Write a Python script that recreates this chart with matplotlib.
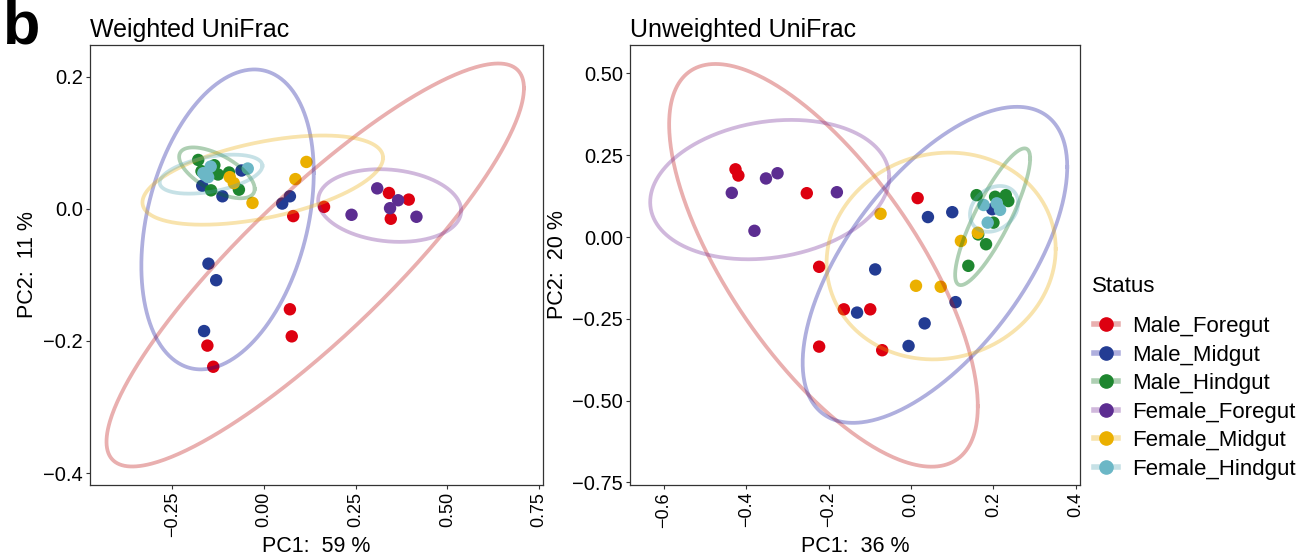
import numpy as np
import matplotlib
matplotlib.use("Agg")
import matplotlib.pyplot as plt
from matplotlib.lines import Line2D

plt.rcParams['font.family'] = ['Liberation Sans', 'DejaVu Sans']

groups = ["Male_Foregut", "Male_Midgut", "Male_Hindgut",
          "Female_Foregut", "Female_Midgut", "Female_Hindgut"]
point_colors = ["#DD0010", "#233C93", "#1E862F", "#5C2D91", "#EBB000", "#6BB7C6"]
ellipse_colors = ["#BD0C0C", "#0C0C9B", "#09701A", "#712995", "#EBAC06", "#54A6B4"]

# ---------------- Weighted UniFrac (left) ----------------
w_x = {
    "Male_Foregut": [0.080, 0.164, 0.341, 0.395, 0.346, 0.071, 0.076, -0.154, -0.138],
    "Male_Midgut": [-0.151, -0.130, -0.163, -0.113, -0.168, -0.061, 0.071, 0.050],
    "Male_Hindgut": [-0.179, -0.135, -0.125, -0.095, -0.068, -0.144, -0.170],
    "Female_Foregut": [0.309, 0.366, 0.344, 0.239, 0.416],
    "Female_Midgut": [0.116, 0.086, -0.031, -0.093, -0.082],
    "Female_Hindgut": [-0.044, -0.145, -0.165, -0.152, -0.160],
}
w_y = {
    "Male_Foregut": [-0.011, 0.003, 0.024, 0.014, -0.015, -0.152, -0.193, -0.207, -0.239],
    "Male_Midgut": [-0.083, -0.108, -0.185, 0.019, 0.035, 0.058, 0.019, 0.008],
    "Male_Hindgut": [0.074, 0.066, 0.052, 0.055, 0.029, 0.028, 0.057],
    "Female_Foregut": [0.031, 0.013, 0.001, -0.009, -0.012],
    "Female_Midgut": [0.071, 0.045, 0.009, 0.048, 0.039],
    "Female_Hindgut": [0.061, 0.064, 0.054, 0.048, 0.051],
}
# ellipse: centre x, centre y, half-width, half-height, correlation
w_ell_cx = [0.140, -0.099, -0.128, 0.343, -0.003, -0.144]
w_ell_cy = [-0.085, -0.016, 0.0545, 0.005, 0.0435, 0.0525]
w_ell_a = [0.569, 0.235, 0.103, 0.195, 0.328, 0.140]
w_ell_b = [0.305, 0.227, 0.0385, 0.055, 0.0675, 0.0295]
w_ell_r = [0.877, 0.31, -0.63, -0.14, 0.50, 0.43]

# ---------------- Unweighted UniFrac (right) ----------------
u_x = {
    "Male_Foregut": [-0.426, -0.419, -0.253, 0.016, -0.223, -0.163, -0.099, -0.223, -0.070],
    "Male_Midgut": [0.041, 0.100, -0.087, 0.108, -0.131, 0.033, -0.006, 0.197],
    "Male_Hindgut": [0.159, 0.204, 0.230, 0.236, 0.200, 0.163, 0.182, 0.139],
    "Female_Foregut": [-0.435, -0.352, -0.324, -0.180, -0.380],
    "Female_Midgut": [-0.074, 0.121, 0.162, 0.012, 0.072],
    "Female_Hindgut": [0.176, 0.208, 0.216, 0.186],
}
u_y = {
    "Male_Foregut": [0.207, 0.188, 0.134, 0.119, -0.091, -0.221, -0.221, -0.335, -0.346],
    "Male_Midgut": [0.061, 0.076, -0.099, -0.199, -0.231, -0.264, -0.333, 0.085],
    "Male_Hindgut": [0.128, 0.123, 0.128, 0.110, 0.044, 0.008, -0.022, -0.088],
    "Female_Foregut": [0.135, 0.179, 0.195, 0.137, 0.019],
    "Female_Midgut": [0.071, -0.012, 0.013, -0.149, -0.152],
    "Female_Hindgut": [0.098, 0.103, 0.083, 0.044],
}
u_ell_cx = [-0.2125, 0.058, 0.198, -0.343, 0.073, 0.2015]
u_ell_cy = [-0.0865, -0.085, 0.062, 0.145, -0.058, 0.086]
u_ell_a = [0.3745, 0.321, 0.091, 0.290, 0.278, 0.0585]
u_ell_b = [0.6155, 0.483, 0.209, 0.213, 0.316, 0.070]
u_ell_r = [-0.70, 0.62, 0.85, 0.18, 0.07, 0.25]

w_xticks = [-0.25, 0.0, 0.25, 0.5, 0.75]
w_xticklabels = ["\u22120.25", "0.00", "0.25", "0.50", "0.75"]
w_yticks = [-0.4, -0.2, 0.0, 0.2]
w_yticklabels = ["\u22120.4", "\u22120.2", "0.0", "0.2"]
u_xticks = [-0.6, -0.4, -0.2, 0.0, 0.2, 0.4]
u_xticklabels = ["\u22120.6", "\u22120.4", "\u22120.2", "0.0", "0.2", "0.4"]
u_yticks = [-0.75, -0.5, -0.25, 0.0, 0.25, 0.5]
u_yticklabels = ["\u22120.75", "\u22120.50", "\u22120.25", "0.00", "0.25", "0.50"]

W, H = 1314, 557
fig = plt.figure(figsize=(W / 100, H / 100), dpi=100)
axL = fig.add_axes([90 / W, 1 - 485 / H, 453 / W, 440 / H])
axR = fig.add_axes([630 / W, 1 - 485 / H, 450 / W, 440 / H])

t = np.linspace(0, 2 * np.pi, 400)


def draw(ax, xs, ys, cx, cy, a, b, r, xlim, ylim, xt, xtl, yt, ytl, title, xlab, ylab,
         ylab_x):
    for i, g in enumerate(groups):
        ax.scatter(xs[g], ys[g], s=80, color=point_colors[i], edgecolors='none', zorder=2)
    for i, g in enumerate(groups):
        ex = cx[i] + a[i] * np.cos(t)
        ey = cy[i] + b[i] * (r[i] * np.cos(t) + np.sqrt(1 - r[i] ** 2) * np.sin(t))
        ax.plot(ex, ey, color=ellipse_colors[i], alpha=0.33, lw=2.7, zorder=3)
    ax.set_xlim(*xlim)
    ax.set_ylim(*ylim)
    ax.set_xticks(xt)
    ax.set_xticklabels(xtl, rotation=90, fontsize=13)
    ax.set_yticks(yt)
    ax.set_yticklabels(ytl, fontsize=14.5)
    ax.tick_params(direction='out', length=3, width=0.8, color='#333333',
                   labelcolor='black', pad=2)
    for sp in ax.spines.values():
        sp.set_color('#333333')
        sp.set_linewidth(0.9)
    ax.set_title(title, loc='left', fontsize=18, pad=6)
    ax.set_xlabel(xlab, fontsize=15.5)
    ax.set_ylabel(ylab, fontsize=15.5)
    ax.xaxis.set_label_coords(0.5, -0.115)
    ax.yaxis.set_label_coords(ylab_x, 0.5)


draw(axL, w_x, w_y, w_ell_cx, w_ell_cy, w_ell_a, w_ell_b, w_ell_r,
     (-0.474, 0.761), (-0.418, 0.248), w_xticks, w_xticklabels, w_yticks, w_yticklabels,
     "Weighted UniFrac", "PC1:  59 %", "PC2:  11 %", (38 - 90) / 453)
draw(axR, u_x, u_y, u_ell_cx, u_ell_cy, u_ell_a, u_ell_b, u_ell_r,
     (-0.682, 0.41), (-0.758, 0.587), u_xticks, u_xticklabels, u_yticks, u_yticklabels,
     "Unweighted UniFrac", "PC1:  36 %", "PC2:  20 %", (568 - 630) / 450)

fig.text(3 / W, 1 - 28 / H, "b", fontsize=44, fontweight='bold', va='center', ha='left')

fig.text(1092 / W, 1 - 287 / H, "Status", fontsize=16, va='center', ha='left')
handles = []
for i, g in enumerate(groups):
    h = Line2D([], [], color=matplotlib.colors.to_rgba(ellipse_colors[i], 0.33), lw=4,
               marker='o', markersize=9.5, markerfacecolor=point_colors[i],
               markeredgecolor=point_colors[i])
    handles.append(h)
leg = fig.legend(handles, groups, loc='upper left',
                 bbox_to_anchor=(1094 / W, 1 - 316 / H), frameon=False,
                 fontsize=16, handlelength=1.08,
                 labelspacing=0.34, handletextpad=0.63, borderaxespad=0, borderpad=0)

fig.savefig("out.png", dpi=100)
